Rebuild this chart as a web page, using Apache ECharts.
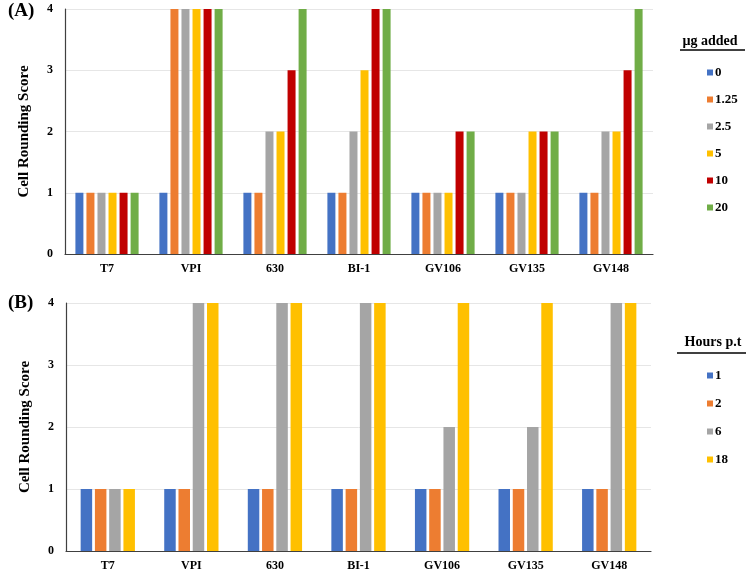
<!DOCTYPE html>
<html>
<head>
<meta charset="utf-8">
<script src="https://cdn.jsdelivr.net/npm/echarts@6/dist/echarts.min.js"></script>
<style>
  html, body { margin: 0; padding: 0; background: #fff; }
  #chart { width: 750px; height: 572px; }
</style>
</head>
<body>
<div id="chart"></div>
<script>
const strains = ['T7', 'VPI', '630', 'BI-1', 'GV106', 'GV135', 'GV148'];

// panel A: dose (µg added)
const doseNames = ['0', '1.25', '2.5', '5', '10', '20'];
const dose0 = [1, 1, 1, 1, 1, 1, 1];
const dose125 = [1, 4, 1, 1, 1, 1, 1];
const dose25 = [1, 4, 2, 2, 1, 1, 2];
const dose5 = [1, 4, 2, 3, 1, 2, 2];
const dose10 = [1, 4, 3, 4, 2, 2, 3];
const dose20 = [1, 4, 4, 4, 2, 2, 4];

// panel B: hours post treatment
const hourNames = ['1', '2', '6', '18'];
const hour1 = [1, 1, 1, 1, 1, 1, 1];
const hour2 = [1, 1, 1, 1, 1, 1, 1];
const hour6 = [1, 4, 4, 4, 2, 2, 4];
const hour18 = [1, 4, 4, 4, 4, 4, 4];

const yTicks = [0, 1, 2, 3, 4];

const colors = ['#4472C4', '#ED7D31', '#A5A5A5', '#FFC000', '#C00000', '#70AD47'];
const serif = '"Liberation Serif", "Times New Roman", serif';

function xAxis(gridIndex) {
	return {
		type: 'category',
		gridIndex: gridIndex,
		data: strains,
		axisLine: { lineStyle: { color: '#404040', width: 1.2 } },
		axisTick: { show: false },
		axisLabel: { color: '#000', fontFamily: serif, fontWeight: 'bold', fontSize: 12, margin: 9 }
	};
}

function yAxis(gridIndex) {
	return {
		type: 'value',
		gridIndex: gridIndex,
		min: yTicks[0],
		max: yTicks[yTicks.length - 1],
		interval: 1,
		name: 'Cell Rounding Score',
		nameLocation: 'middle',
		nameGap: 33,
		nameTextStyle: { color: '#000', fontFamily: serif, fontWeight: 'bold', fontSize: 15 },
		axisLine: { show: true, lineStyle: { color: '#404040', width: 1.2 } },
		axisTick: { show: false },
		axisLabel: { color: '#000', fontFamily: serif, fontWeight: 'bold', fontSize: 12, margin: 12 },
		splitLine: { lineStyle: { color: '#e6e6e6' } }
	};
}

const doseData = [dose0, dose125, dose25, dose5, dose10, dose20];
const hourData = [hour1, hour2, hour6, hour18];

let series = [];
doseData.forEach(function (vals, i) {
	series.push({
		name: doseNames[i],
		type: 'bar',
		xAxisIndex: 0,
		yAxisIndex: 0,
		data: vals,
		barWidth: 8,
		barGap: '38%',
		itemStyle: { color: colors[i] }
	});
});
hourData.forEach(function (vals, i) {
	series.push({
		name: hourNames[i],
		type: 'bar',
		xAxisIndex: 1,
		yAxisIndex: 1,
		data: vals,
		barWidth: 11.5,
		barGap: '24%',
		itemStyle: { color: colors[i] }
	});
});

const legendText = { color: '#000', fontFamily: serif, fontWeight: 'bold', fontSize: 13, padding: [0, 0, 0, -3] };

var chartDom = document.getElementById('chart');
var myChart = echarts.init(chartDom);

var option = {
	animation: false,
	grid: [
		{ left: 65, right: 97, top: 9, height: 245 },
		{ left: 66, right: 99, top: 303, height: 249 }
	],
	xAxis: [xAxis(0), xAxis(1)],
	yAxis: [yAxis(0), yAxis(1)],
	legend: [
		{
			// legend for panel A
			data: doseNames.map(function (n, i) { return { name: n, itemStyle: { color: colors[i] } }; }),
			orient: 'vertical',
			left: 702,
			top: 61,
			icon: 'rect',
			itemWidth: 6,
			itemHeight: 6,
			itemGap: 14,
			textStyle: legendText,
			selectedMode: false
		},
		{
			// legend for panel B
			data: hourNames.map(function (n, i) { return { name: n, itemStyle: { color: colors[i] } }; }),
			orient: 'vertical',
			left: 702,
			top: 364,
			icon: 'rect',
			itemWidth: 6,
			itemHeight: 6,
			itemGap: 15,
			textStyle: legendText,
			selectedMode: false
		}
	],
	graphic: [
		{ type: 'text', left: 8, top: 2, style: { text: '(A)', font: 'bold 19px ' + serif, fill: '#000' } },
		{ type: 'text', left: 8, top: 294, style: { text: '(B)', font: 'bold 19px ' + serif, fill: '#000' } },
		{ type: 'text', x: 710, y: 41, style: { text: 'µg added', font: 'bold 14px ' + serif, fill: '#000', align: 'center', verticalAlign: 'middle' } },
		{ type: 'line', shape: { x1: 680, y1: 50, x2: 745, y2: 50 }, style: { stroke: '#000', lineWidth: 1.5 } },
		{ type: 'text', x: 713, y: 342, style: { text: 'Hours p.t', font: 'bold 14px ' + serif, fill: '#000', align: 'center', verticalAlign: 'middle' } },
		{ type: 'line', shape: { x1: 677, y1: 353, x2: 746, y2: 353 }, style: { stroke: '#000', lineWidth: 1.5 } }
	],
	series: series
};

option && myChart.setOption(option);
</script>
</body>
</html>
